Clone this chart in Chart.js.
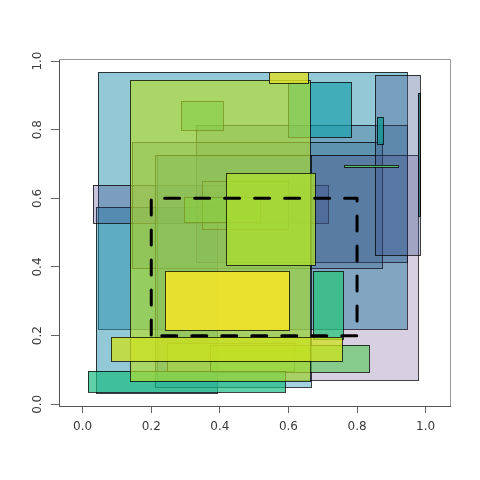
<!DOCTYPE html>
<html><head><meta charset="utf-8">
<script src="https://cdn.jsdelivr.net/npm/chart.js@4"></script>
<style>html,body{margin:0;padding:0;background:#fff;}</style>
</head><body>
<canvas id="c" width="480" height="480"></canvas>
<script>
const xTicks = [0, 0.2, 0.4, 0.6, 0.8, 1.0];
const yTicks = [0, 0.2, 0.4, 0.6, 0.8, 1.0];
const xRange = [-0.069, 1.071];
const yRange = [-0.005, 1.006];

// rectangles, in drawing order
const rectX0 = [0.045, 0.040, 0.031, 0.329, 0.145, 0.216, 0.211, 0.853, 0.599, 0.288, 0.349, 0.296, 0.245, 0.371, 0.016, 0.139, 0.672, 0.417, 0.240, 0.082, 0.543, 0.859, 0.978, 0.763];
const rectX1 = [0.945, 0.391, 0.716, 0.946, 0.873, 0.978, 0.665, 0.983, 0.781, 0.408, 0.600, 0.517, 0.617, 0.836, 0.590, 0.664, 0.760, 0.678, 0.602, 0.757, 0.656, 0.876, 0.984, 0.918];
const rectY0 = [0.218, 0.032, 0.527, 0.415, 0.396, 0.072, 0.051, 0.435, 0.778, 0.800, 0.510, 0.532, 0.097, 0.094, 0.035, 0.067, 0.190, 0.406, 0.216, 0.127, 0.935, 0.757, 0.549, 0.690];
const rectY1 = [0.968, 0.576, 0.639, 0.814, 0.763, 0.726, 0.726, 0.959, 0.938, 0.885, 0.650, 0.605, 0.178, 0.172, 0.096, 0.946, 0.387, 0.675, 0.387, 0.195, 0.968, 0.836, 0.906, 0.697];
const rectFill = [
  'rgba(40,145,175,0.5)', 'rgba(40,145,175,0.5)', 'rgba(70,60,135,0.3)', 'rgba(49,104,142,0.35)',
  'rgba(49,104,142,0.3)', 'rgba(72,40,120,0.22)', 'rgba(50,150,190,0.45)', 'rgba(59,82,139,0.35)',
  'rgba(20,160,170,0.65)', 'rgba(40,175,130,0.6)', 'rgba(100,180,100,0.2)', 'rgba(60,190,90,0.5)',
  'rgba(190,220,60,0.3)', 'rgba(94,201,98,0.67)', 'rgba(28,188,131,0.7)', 'rgba(181,222,43,0.65)',
  'rgba(41,195,125,0.75)', 'rgba(170,220,50,0.8)', 'rgba(253,231,37,0.82)', 'rgba(205,225,30,0.75)',
  'rgba(225,225,40,0.8)', 'rgba(20,150,150,0.8)', 'rgba(30,100,110,0.8)', 'rgba(94,201,98,0.8)'
];
const dashX = [0.2, 0.8];
const dashY = [0.2, 0.6];

const rectPlugin = {
  id: 'rects',
  beforeDatasetsDraw(chart) {
    const {ctx, chartArea: a, scales: {x, y}} = chart;
    ctx.save();
    ctx.beginPath();
    ctx.rect(a.left, a.top, a.right - a.left, a.bottom - a.top);
    ctx.clip();
    for (let i = 0; i < rectX0.length; i++) {
      const l = Math.round(x.getPixelForValue(rectX0[i]));
      const r = Math.round(x.getPixelForValue(rectX1[i]));
      const t = Math.round(y.getPixelForValue(rectY1[i]));
      const b = Math.round(y.getPixelForValue(rectY0[i]));
      ctx.fillStyle = rectFill[i];
      ctx.fillRect(l, t, r - l, b - t);
      ctx.strokeStyle = 'rgba(0,0,0,0.75)';
      ctx.lineWidth = 1;
      ctx.strokeRect(l + 0.5, t + 0.5, r - l, b - t);
    }
    const dl = x.getPixelForValue(dashX[0]), dr = x.getPixelForValue(dashX[1]);
    const dt = y.getPixelForValue(dashY[1]), db = y.getPixelForValue(dashY[0]);
    ctx.beginPath();
    ctx.moveTo(dl, db);
    ctx.lineTo(dr, db);
    ctx.lineTo(dr, dt);
    ctx.lineTo(dl, dt);
    ctx.closePath();
    ctx.setLineDash([15, 15]);
    ctx.lineDashOffset = 19.5;
    ctx.lineCap = 'round';
    ctx.lineJoin = 'round';
    ctx.lineWidth = 3;
    ctx.strokeStyle = '#000';
    ctx.stroke();
    ctx.restore();
  },
  afterDraw(chart) {
    const {ctx, chartArea: a} = chart;
    ctx.save();
    ctx.strokeStyle = '#999';
    ctx.lineWidth = 1;
    ctx.beginPath();
    ctx.moveTo(a.left, a.top + 0.5);
    ctx.lineTo(a.right + 0.5, a.top + 0.5);
    ctx.lineTo(a.right + 0.5, a.bottom);
    ctx.stroke();
    ctx.restore();
  }
};

Chart.defaults.font.family = 'DejaVu Sans';
Chart.defaults.font.size = 12;
Chart.defaults.color = '#3a3a3a';

new Chart(document.getElementById('c'), {
  type: 'scatter',
  data: { datasets: [] },
  options: {
    responsive: false,
    devicePixelRatio: 1,
    animation: false,
    layout: { padding: { top: 59, right: 30, bottom: 0, left: 0 } },
    plugins: { legend: { display: false }, tooltip: { enabled: false } },
    scales: {
      x: {
        type: 'linear', position: 'bottom',
        min: xRange[0], max: xRange[1],
        afterBuildTicks: s => { s.ticks = xTicks.map(v => ({ value: v })); },
        afterFit: s => { s.height = 74; },
        grid: { display: true, drawOnChartArea: false, drawTicks: true, tickLength: 7, tickColor: '#666' },
        border: { display: true, color: '#555', width: 1 },
        ticks: { padding: 7, maxRotation: 0, autoSkip: false, callback: v => Number(v).toFixed(1) }
      },
      y: {
        type: 'linear', position: 'left',
        min: yRange[0], max: yRange[1],
        afterBuildTicks: s => { s.ticks = yTicks.map(v => ({ value: v })); },
        afterFit: s => { s.width = 59; },
        grid: { display: true, drawOnChartArea: false, drawTicks: true, tickLength: 8, tickColor: '#666' },
        border: { display: true, color: '#555', width: 1 },
        ticks: { padding: 4, minRotation: 90, maxRotation: 90, crossAlign: 'center', autoSkip: false, callback: v => Number(v).toFixed(1) }
      }
    }
  },
  plugins: [rectPlugin]
});
</script>
</body></html>
